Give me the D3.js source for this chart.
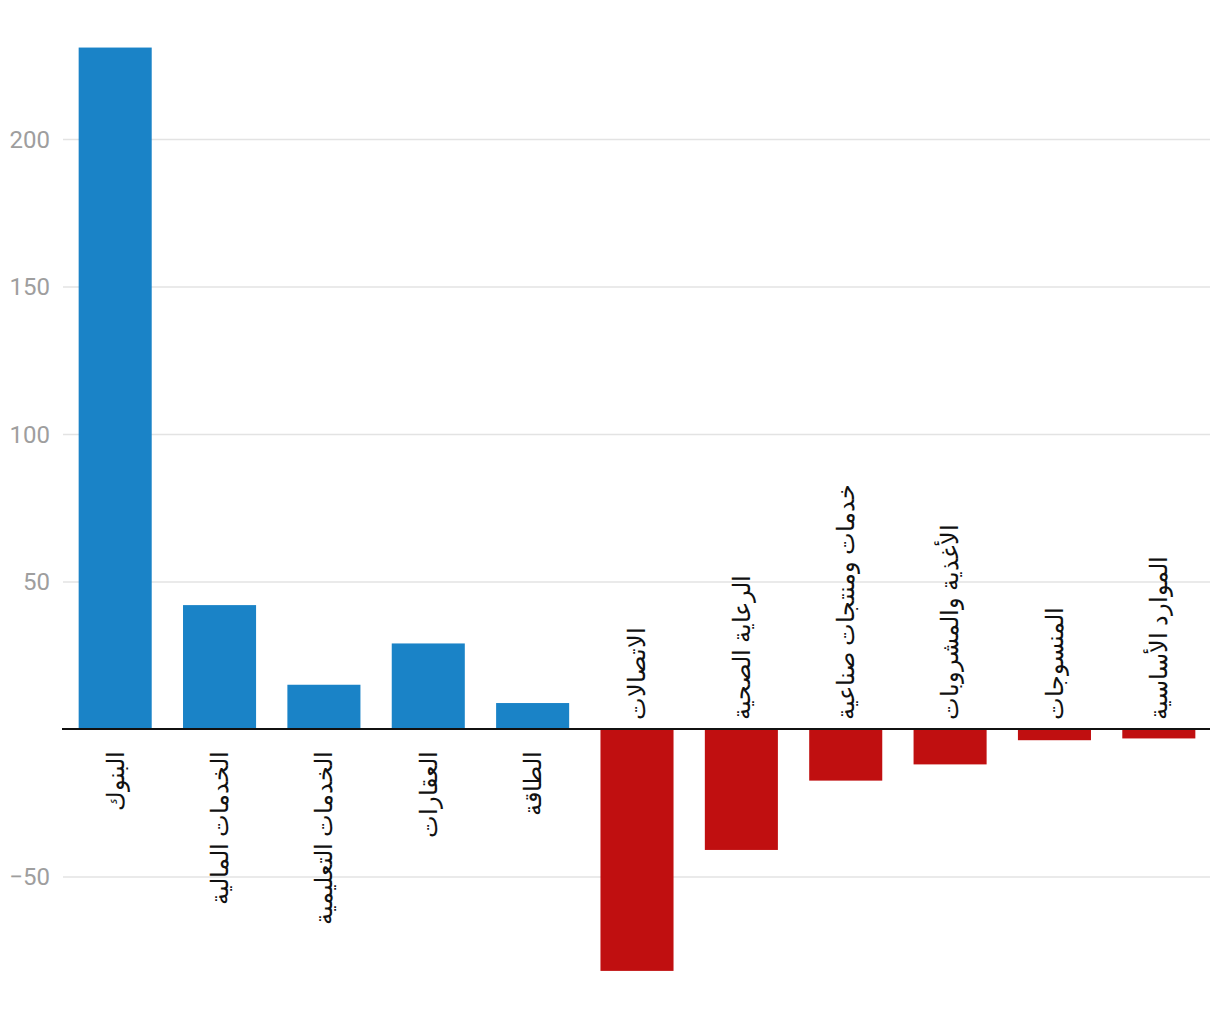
<!DOCTYPE html>
<html>
<head>
<meta charset="utf-8">
<script src="https://cdn.jsdelivr.net/npm/d3@7"></script>
<style>
  body { margin: 0; background: #fff; }
  svg { display: block; }
</style>
</head>
<body>
<div id="chart"></div>
<script>
// sectors and their values
var sectors = ["البنوك", "الخدمات المالية", "الخدمات التعليمية", "العقارات", "الطاقة",
  "الاتصالات", "الرعاية الصحية", "خدمات ومنتجات صناعية", "الأغذية والمشروبات",
  "المنسوجات", "الموارد الأساسية"];
var values = [231, 42, 15, 29, 8.8, -82, -41, -17.5, -12, -3.8, -3.2];
var yTicks = [-50, 50, 100, 150, 200];

var width = 1220, height = 1020;
var left = 62, right = 1210;

var svg = d3.select("#chart").append("svg")
  .attr("width", width)
  .attr("height", height);

var x = d3.scaleBand()
  .domain(sectors)
  .range([left + 1, right + 1])
  .paddingInner(0.3)
  .paddingOuter(0.15);

// 0 sits at 729px, 50 units = 147.5px
var y = d3.scaleLinear()
  .domain([-90, 240])
  .range([729 + 90 * 2.95, 729 - 240 * 2.95]);

//grid lines + tick labels
var yAxis = d3.axisLeft(y)
  .tickValues(yTicks)
  .tickSize(0)
  .tickFormat(function(d) { return d < 0 ? "\u2212" + Math.abs(d) : d; });

var gy = svg.append("g")
  .attr("transform", "translate(" + right + ",0)")
  .call(yAxis);
gy.select(".domain").remove();
gy.selectAll(".tick line")
  .attr("stroke", "#e3e3e3")
  .attr("stroke-width", 1.5)
  .attr("x1", 0)
  .attr("x2", -(right - left - 1));
gy.selectAll(".tick text")
  .attr("x", -(right - 50))
  .attr("dy", "0.35em")
  .style("text-anchor", "end")
  .style("font-family", "Roboto, sans-serif")
  .style("font-size", "24px")
  .style("fill", "#9e9e9e");

//bars
svg.append("g").selectAll("rect")
  .data(values)
  .join("rect")
  .attr("x", function(d, i) { return x(sectors[i]); })
  .attr("width", x.bandwidth())
  .attr("y", function(d) { return d > 0 ? y(d) : y(0); })
  .attr("height", function(d) { return Math.abs(y(d) - y(0)); })
  .attr("fill", function(d) { return d > 0 ? "#1a83c7" : "#c00f10"; });

//zero line
svg.append("line")
  .attr("x1", left)
  .attr("x2", right)
  .attr("y1", y(0))
  .attr("y2", y(0))
  .attr("stroke", "#111")
  .attr("stroke-width", 2);

//rotated category labels, on the other side of the zero line
svg.append("g").selectAll("text")
  .data(values)
  .join("text")
  .attr("transform", function(d, i) {
    var cx = x(sectors[i]) + x.bandwidth() / 2;
    var cy = d > 0 ? y(0) + 22 : y(0) - 9;
    return "translate(" + cx + "," + cy + ") rotate(-90)";
  })
  .attr("dy", "0.35em")
  .style("text-anchor", function(d) { return d > 0 ? "end" : "start"; })
  .style("font-family", "Roboto, sans-serif")
  .style("font-size", "24px")
  .style("fill", "#111")
  .text(function(d, i) { return sectors[i]; });
</script>
</body>
</html>
